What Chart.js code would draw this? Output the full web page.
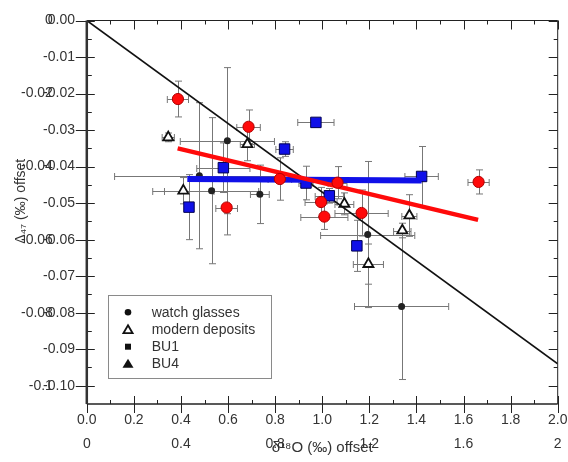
<!DOCTYPE html>
<html>
<head>
<meta charset="utf-8">
<script src="https://cdn.jsdelivr.net/npm/chart.js@4/dist/chart.umd.min.js"></script>
<style>
  html, body { margin: 0; padding: 0; background: #ffffff; }
  #wrap { width: 568px; height: 462px; }
</style>
</head>
<body>
<div id="wrap"><canvas id="c" width="568" height="462"></canvas></div>
<script>
// ---------- data ----------
// watch glasses (black dots)
const wgX    = [0.597, 0.478, 0.530, 0.735, 1.193, 1.337];
const wgY    = [-0.0329, -0.0425, -0.0466, -0.0476, -0.0586, -0.0783];
const wgXErr = [0.20, 0.36, 0.20, 0.04, 0.20, 0.20];
const wgYErr = [0.020, 0.020, 0.020, 0.008, 0.020, 0.020];

// modern deposits (open triangles)
const mdX    = [0.346, 0.410, 0.682, 1.094, 1.370, 1.340, 1.196];
const mdY    = [-0.0320, -0.0466, -0.0339, -0.0502, -0.0534, -0.0575, -0.0667];
const mdXErr = [0.026, 0.13, 0.03, 0.04, 0.032, 0.037, 0.064];
const mdYErr = [0.0012, 0.0036, 0.0045, 0.003, 0.0057, 0.002, 0.0055];

// BU1 (blue squares)
const bu1X    = [0.973, 0.840, 0.580, 0.434, 0.931, 1.030, 1.147, 1.422];
const bu1Y    = [-0.0279, -0.0352, -0.0403, -0.0511, -0.0445, -0.0480, -0.0617, -0.0427];
const bu1XErr = [0.077, 0.037, 0.113, 0.015, 0.03, 0.06, 0.015, 0.071];
const bu1YErr = [0.001, 0.002, 0.0068, 0.0089, 0.0046, 0.002, 0.007, 0.0082];

// BU4 (red circles)
const bu4X    = [0.387, 0.687, 0.820, 0.594, 1.065, 0.995, 1.009, 1.167, 1.664];
const bu4Y    = [-0.0215, -0.0291, -0.0434, -0.0512, -0.0444, -0.0497, -0.0537, -0.0527, -0.0442];
const bu4XErr = [0.045, 0.05, 0.05, 0.046, 0.04, 0.068, 0.10, 0.113, 0.045];
const bu4YErr = [0.0049, 0.0046, 0.0058, 0.0075, 0.0044, 0.004, 0.0035, 0.0063, 0.0033];

// lines
const oneToOneX = [0, 2];
const oneToOneY = [0, -0.094];
const redFitX = [0.386, 1.662];
const redFitY = [-0.0350, -0.0546];
const blueFitX = [0.427, 1.422];
const blueFitY = [-0.0434, -0.0438];

// ticks
const xTickVals   = [0, 0.2, 0.4, 0.6, 0.8, 1.0, 1.2, 1.4, 1.6, 1.8, 2.0];
const xTickLabels = ['0.0', '0.2', '0.4', '0.6', '0.8', '1.0', '1.2', '1.4', '1.6', '1.8', '2.0'];
const x2TickVals   = [0, 0.4, 0.8, 1.2, 1.6, 2.0];
const x2TickLabels = ['0', '0.4', '0.8', '1.2', '1.6', '2'];
const yTickVals   = [-0.10, -0.09, -0.08, -0.07, -0.06, -0.05, -0.04, -0.03, -0.02, -0.01, 0];
const yTickLabels = ['-0.10', '-0.09', '-0.08', '-0.07', '-0.06', '-0.05', '-0.04', '-0.03', '-0.02', '-0.01', '0.00'];
const y2TickVals   = [-0.10, -0.08, -0.06, -0.04, -0.02, 0];
const y2TickLabels = ['-0.1', '-0.08', '-0.06', '-0.04', '-0.02', '0'];

const legendLabels = ['watch glasses', 'modern deposits', 'BU1', 'BU4'];
const xTitle = 'δ¹⁸O (‰) offset';
const yTitle = 'Δ₄₇ (‰) offset';

// ---------- helpers ----------
const pts = (xs, ys) => xs.map((v, i) => ({x: v, y: ys[i]}));
const zeroPad = s => { s.paddingLeft = 0; s.paddingRight = 0; s.paddingTop = 0; s.paddingBottom = 0; };

Chart.defaults.font.family = "'Liberation Sans', Arial, Helvetica, sans-serif";
Chart.defaults.font.size = 14;
Chart.defaults.color = '#333333';

// error bars, drawn beneath markers
const errorBars = {
  id: 'errorBars',
  beforeDatasetsDraw(chart) {
    const {ctx, scales: {x, y}} = chart;
    ctx.save();
    ctx.strokeStyle = '#777777';
    ctx.lineWidth = 1;
    const cap = 3.5;
    chart.data.datasets.forEach(ds => {
      if (!ds.errX) return;
      ds.data.forEach((p, i) => {
        const cx = Math.round(x.getPixelForValue(p.x)) + 0.5;
        const cy = Math.round(y.getPixelForValue(p.y)) + 0.5;
        const x0 = x.getPixelForValue(p.x - ds.errX[i]);
        const x1 = x.getPixelForValue(p.x + ds.errX[i]);
        const y0 = y.getPixelForValue(p.y - ds.errY[i]);
        const y1 = y.getPixelForValue(p.y + ds.errY[i]);
        ctx.beginPath();
        ctx.moveTo(x0, cy); ctx.lineTo(x1, cy);
        ctx.moveTo(x0, cy - cap); ctx.lineTo(x0, cy + cap);
        ctx.moveTo(x1, cy - cap); ctx.lineTo(x1, cy + cap);
        ctx.moveTo(cx, y0); ctx.lineTo(cx, y1);
        ctx.moveTo(cx - cap, y0); ctx.lineTo(cx + cap, y0);
        ctx.moveTo(cx - cap, y1); ctx.lineTo(cx + cap, y1);
        ctx.stroke();
      });
    });
    ctx.restore();
  }
};

// frame with ticks
const frame = {
  id: 'frame',
  afterLayout(chart) {
    // move the outer left title slightly upward (title is centred on the scale box)
    const s = chart.scales.y2;
    if (s) { s.bottom -= 22; }
  },
  afterDraw(chart) {
    const {ctx, chartArea: a, scales: {x, y}} = chart;
    ctx.save();
    ctx.strokeStyle = '#222222';
    const seg = (x0, y0, x1, y1) => { ctx.beginPath(); ctx.moveTo(x0, y0); ctx.lineTo(x1, y1); ctx.stroke(); };
    ctx.lineWidth = 1;
    seg(a.left, a.top, a.right, a.top);
    seg(a.right, a.top, a.right, a.bottom);
    for (let k = 0; k <= 20; k++) {
      const px = Math.round(x.getPixelForValue(k * 0.1)) + 0.5;
      const major = k % 2 === 0;
      if (major) {
        seg(px, a.bottom - 8, px, a.bottom + 9);
        seg(px, a.top, px, a.top + 9);
      } else {
        seg(px, a.bottom - 4, px, a.bottom);
        seg(px, a.top, px, a.top + 4);
      }
    }
    for (let k = 0; k <= 20; k++) {
      const py = Math.round(y.getPixelForValue(-k * 0.005)) + 0.5;
      const major = k % 2 === 0;
      if (major) {
        seg(a.left - 11, py, a.left + 8, py);
        seg(a.right - 9, py, a.right, py);
      } else {
        seg(a.left, py, a.left + 5, py);
        seg(a.right - 4, py, a.right, py);
      }
    }
    ctx.lineWidth = 1.5;
    seg(a.left, a.bottom, a.right, a.bottom);
    ctx.lineWidth = 2.5;
    ctx.strokeStyle = '#333333';
    seg(a.left, a.top, a.left, a.bottom);
    ctx.restore();
  }
};

// legend box inside plot
const legendBox = {
  id: 'legendBox',
  afterDraw(chart) {
    const {ctx, chartArea: a} = chart;
    const bx = a.left + 21.5, by = a.top + 274.5, bw = 163.4, bh = 83.3;
    ctx.save();
    ctx.fillStyle = '#ffffff';
    ctx.fillRect(bx, by, bw, bh);
    ctx.strokeStyle = '#8a8a8a';
    ctx.lineWidth = 1;
    ctx.strokeRect(Math.round(bx) + 0.5, Math.round(by) + 0.5, Math.round(bw), Math.round(bh));
    const rows = [17.3, 34.7, 51.7, 68.7];
    const mx = bx + 19.7, tx = bx + 43.4;
    ctx.font = "14px 'Liberation Sans', Arial, sans-serif";
    ctx.textBaseline = 'middle';
    ctx.textAlign = 'left';
    rows.forEach((ry, i) => {
      const cy = by + ry;
      ctx.fillStyle = '#111111';
      ctx.strokeStyle = '#111111';
      if (i === 0) {
        ctx.beginPath(); ctx.arc(mx, cy, 3.3, 0, Math.PI * 2); ctx.fill();
      } else if (i === 1) {
        ctx.lineWidth = 1.8;
        ctx.beginPath(); ctx.moveTo(mx, cy - 4.5); ctx.lineTo(mx + 4.6, cy + 3.5); ctx.lineTo(mx - 4.6, cy + 3.5); ctx.closePath(); ctx.stroke();
      } else if (i === 2) {
        ctx.fillRect(mx - 3, cy - 3, 6, 6);
      } else {
        ctx.beginPath(); ctx.moveTo(mx, cy - 5); ctx.lineTo(mx + 5.5, cy + 4); ctx.lineTo(mx - 5.5, cy + 4); ctx.closePath(); ctx.fill();
      }
      ctx.fillStyle = '#333333';
      ctx.fillText(legendLabels[i], tx, cy + 0.5);
    });
    ctx.restore();
  }
};

const lineDs = (xs, ys, color, width, order) => ({
  label: '', data: pts(xs, ys), showLine: true, pointRadius: 0, pointHoverRadius: 0,
  borderColor: color, borderWidth: width, backgroundColor: color, fill: false, order: order,
  borderCapStyle: 'butt'
});

new Chart(document.getElementById('c').getContext('2d'), {
  type: 'scatter',
  data: {
    datasets: [
      { label: legendLabels[3], data: pts(bu4X, bu4Y), errX: bu4XErr, errY: bu4YErr,
        pointStyle: 'circle', pointRadius: 5.6, pointBackgroundColor: '#ff0a0a', pointBorderColor: '#b00000', pointBorderWidth: 1, order: 0 },
      lineDs(redFitX, redFitY, '#ff0a0a', 4.5, 1),
      lineDs(blueFitX, blueFitY, '#1010e8', 6, 2),
      { label: legendLabels[2], data: pts(bu1X, bu1Y), errX: bu1XErr, errY: bu1YErr,
        pointStyle: 'rect', pointRadius: 7.4, pointBackgroundColor: '#1010e8', pointBorderColor: '#000050', pointBorderWidth: 1, order: 3 },
      lineDs(oneToOneX, oneToOneY, '#111111', 1.6, 4),
      { label: legendLabels[1], data: pts(mdX, mdY), errX: mdXErr, errY: mdYErr,
        pointStyle: 'triangle', pointRadius: 5.8, pointBackgroundColor: '#ffffff', pointBorderColor: '#111111', pointBorderWidth: 1.8, order: 5 },
      { label: legendLabels[0], data: pts(wgX, wgY), errX: wgXErr, errY: wgYErr,
        pointStyle: 'circle', pointRadius: 3.5, pointBackgroundColor: '#222222', pointBorderColor: '#222222', pointBorderWidth: 0, order: 6 }
    ]
  },
  options: {
    responsive: false,
    animation: false,
    events: [],
    layout: { padding: { top: 20.5, right: 10.3, left: 0, bottom: 0 } },
    plugins: { legend: { display: false }, tooltip: { enabled: false } },
    scales: {
      x: {
        type: 'linear', position: 'bottom', min: 0, max: 2, weight: 0,
        grid: { display: false, drawTicks: false }, border: { display: false },
        afterBuildTicks: s => { s.ticks = xTickVals.map(v => ({value: v})); },
        ticks: { autoSkip: false, maxRotation: 0, minRotation: 0, padding: 7.6, callback: (v, i) => xTickLabels[i] },
        afterFit: s => { s.height = 24; zeroPad(s); }
      },
      x2: {
        type: 'linear', position: 'bottom', min: 0, max: 2, weight: 1,
        grid: { display: false, drawTicks: false }, border: { display: false },
        afterBuildTicks: s => { s.ticks = x2TickVals.map(v => ({value: v})); },
        ticks: { autoSkip: false, maxRotation: 0, minRotation: 0, padding: 7.6, callback: (v, i) => x2TickLabels[i] },
        title: { display: true, text: xTitle, font: { size: 15 }, color: '#333333', padding: { top: 0, bottom: 5.2 } },
        afterFit: s => { s.height = 34; zeroPad(s); }
      },
      y: {
        type: 'linear', position: 'left', min: -0.105, max: 0, weight: 0,
        grid: { display: false, drawTicks: false }, border: { display: false },
        afterBuildTicks: s => { s.ticks = yTickVals.map(v => ({value: v})); },
        ticks: { autoSkip: false, padding: 11.8, callback: (v, i) => yTickLabels[i] },
        afterFit: s => { s.width = 86.8; zeroPad(s); }
      },
      y2: {
        type: 'linear', position: 'left', min: -0.105, max: 0, weight: 1,
        grid: { display: false, drawTicks: false }, border: { display: false },
        afterBuildTicks: s => { s.ticks = y2TickVals.map(v => ({value: v})); },
        ticks: { autoSkip: false, mirror: true, crossAlign: 'far', padding: 21, callback: (v, i) => y2TickLabels[i] },
        title: { display: true, text: yTitle, font: { size: 14 }, color: '#333333', padding: { top: 12.6, bottom: 0 } },
        afterFit: s => { s.width = 0; zeroPad(s); }
      }
    }
  },
  plugins: [errorBars, frame, legendBox]
});
</script>
</body>
</html>
